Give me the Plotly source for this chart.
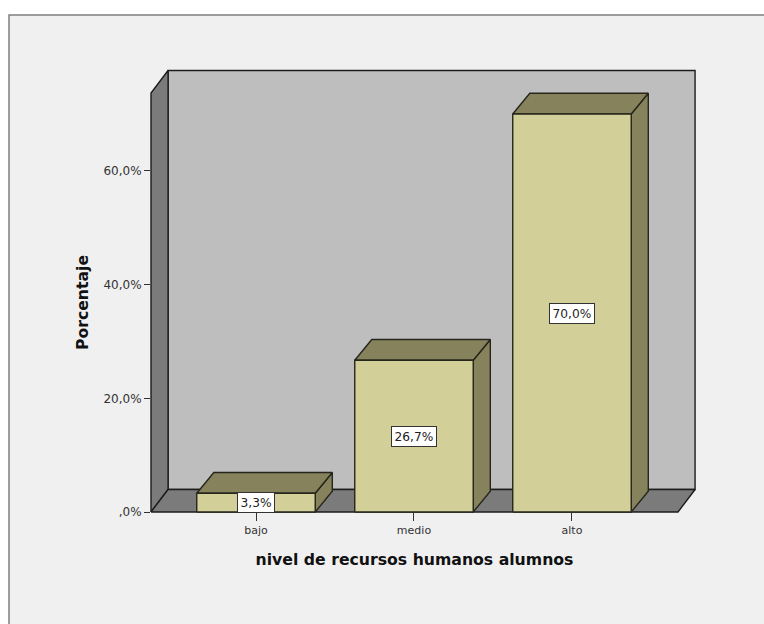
import plotly.graph_objects as go

categories = ["bajo", "medio", "alto"]
percent = [3.3, 26.7, 70.0]
value_labels = ["3,3%", "26,7%", "70,0%"]
y_ticks = [0, 20, 40, 60]
y_tick_labels = [",0%", "20,0%", "40,0%", "60,0%"]

W, H = 764, 624
L, R, T, B = 148, 698, 69, 515       # drawing box, depth and edge widths included
FRONT_L, FRONT_R, FRONT_T, FRONT_B = 151, 678, 93, 512   # front plane of the chart box
X_MIN, X_MAX = -0.6646, 2.671
Y_MAX = 73.7
WALL_DX, WALL_DY = 0.108, 3.95
BAR_DX, BAR_DY = 0.108, 3.65
BAR_HALF = 0.375
EDGE = "#26261c"
WALL_EDGE = "#1c1c1c"
LABEL_FONT = "DejaVu Sans"

x_per_px = (X_MAX - X_MIN) / (FRONT_R - FRONT_L)
y_per_px = Y_MAX / (FRONT_B - FRONT_T)

fig = go.Figure()
back_left, back_right = X_MIN + WALL_DX, X_MAX + WALL_DX
back_top = Y_MAX + WALL_DY

# front axis lines, on the axes that carry ticks and titles
fig.add_trace(go.Scatter(x=[X_MIN, X_MIN, X_MAX], y=[Y_MAX, 0, 0], mode="lines",
                         line=dict(color=WALL_EDGE, width=1.6), hoverinfo="skip",
                         showlegend=False, cliponaxis=False))


def face(xs, ys, fill, edge=EDGE, width=1.4):
    fig.add_trace(go.Scatter(
        x=xs + xs[:1], y=ys + ys[:1], mode="lines", fill="toself", fillcolor=fill,
        xaxis="x2", yaxis="y2",
        line=dict(color=edge, width=width), hoverinfo="skip", showlegend=False, cliponaxis=False,
    ))


# back wall, left wall, floor
face([back_left, back_right, back_right, back_left], [WALL_DY, WALL_DY, back_top, back_top], "#bebebe", WALL_EDGE)
face([X_MIN, back_left, back_left, X_MIN], [0, WALL_DY, back_top, Y_MAX], "#7b7b7b", WALL_EDGE)
face([X_MIN, X_MAX, back_right, back_left], [0, 0, WALL_DY, WALL_DY], "#7b7b7b", WALL_EDGE)

# bars
for i, v in enumerate(percent):
    a, b = i - BAR_HALF, i + BAR_HALF
    face([b, b + BAR_DX, b + BAR_DX, b], [0, BAR_DY, v + BAR_DY, v], "#86825c")
    face([a, b, b + BAR_DX, a + BAR_DX], [v, v, v + BAR_DY, v + BAR_DY], "#86825c")
    face([a, b, b, a], [0, 0, v, v], "#d3cf98")

for i, v in enumerate(percent):
    fig.add_annotation(x=i, y=v / 2, xref="x2", yref="y2", text=value_labels[i], showarrow=False,
                       font=dict(family=LABEL_FONT, size=12.2, color="#222222"),
                       bgcolor="white", bordercolor="#333333", borderwidth=1, borderpad=2.5)

fig.update_layout(
    xaxis=dict(domain=[(FRONT_L - L) / (R - L), (FRONT_R - L) / (R - L)], range=[X_MIN, X_MAX],
               anchor="y", tickmode="array", tickvals=[0, 1, 2], ticktext=categories,
               showgrid=False, zeroline=False, showline=False, ticks="outside", ticklen=8,
               tickwidth=1.2, tickcolor="#333333",
               tickfont=dict(family=LABEL_FONT, size=11, color="#333333"),
               title=dict(text="nivel de recursos humanos alumnos", standoff=17,
                          font=dict(family=LABEL_FONT, size=15.7, color="#111111", weight="bold"))),
    yaxis=dict(domain=[(B - FRONT_B) / (B - T), (B - FRONT_T) / (B - T)], range=[0, Y_MAX],
               anchor="x", tickmode="array", tickvals=y_ticks, ticktext=y_tick_labels,
               showgrid=False, zeroline=False, showline=False, ticks="outside", ticklen=6,
               tickwidth=1.2, tickcolor="#333333",
               tickfont=dict(family=LABEL_FONT, size=12, color="#333333"),
               title=dict(text="Porcentaje", standoff=10,
                          font=dict(family=LABEL_FONT, size=15.7, color="#111111", weight="bold"))),
    xaxis2=dict(domain=[0, 1], anchor="y2", visible=False, fixedrange=True,
                range=[X_MIN - (FRONT_L - L) * x_per_px, X_MAX + (R - FRONT_R) * x_per_px]),
    yaxis2=dict(domain=[0, 1], anchor="x2", visible=False, fixedrange=True,
                range=[-(B - FRONT_B) * y_per_px, Y_MAX + (FRONT_T - T) * y_per_px]),
    width=W, height=H, autosize=False, showlegend=False,
    margin=dict(l=L, r=W - R, t=T, b=H - B, pad=0),
    paper_bgcolor="white", plot_bgcolor="rgba(0,0,0,0)",
    shapes=[dict(type="rect", xref="paper", yref="paper", layer="below",
                 x0=(9 - L) / (R - L), x1=(W + 10 - L) / (R - L),
                 y0=(B - H - 10) / (B - T), y1=(B - 15) / (B - T),
                 fillcolor="#f0f0f0", line=dict(color="#7f7f7f", width=1.5))],
)

fig.write_html("out.html", config={"displayModeBar": False},
               post_script="document.body.style.margin='0';")
